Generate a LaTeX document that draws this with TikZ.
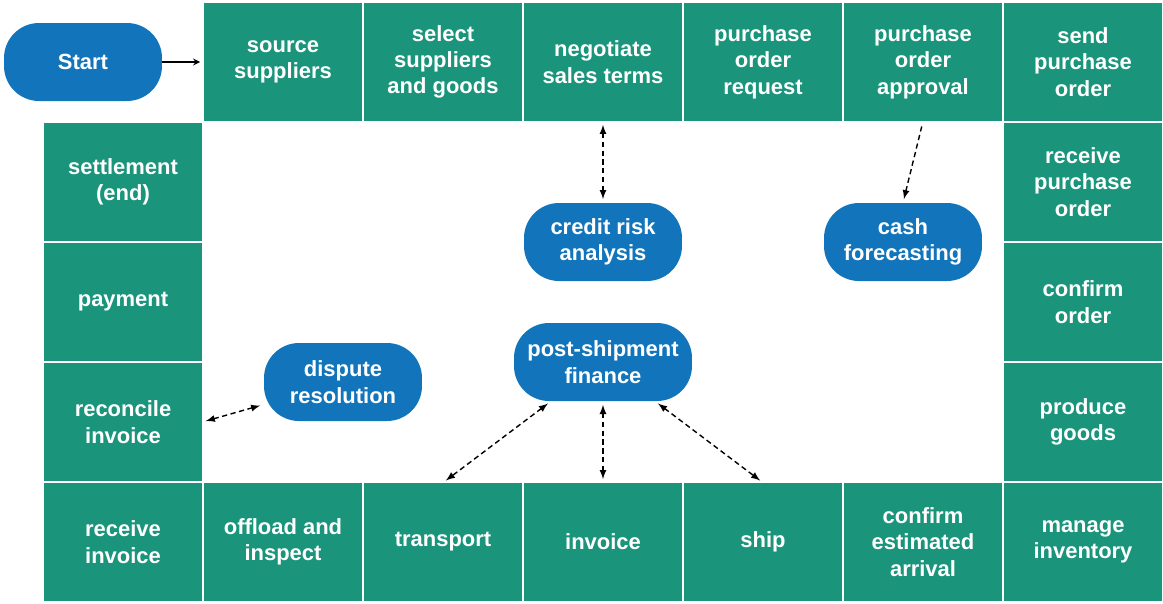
\documentclass[tikz,border=0pt]{standalone}
\usepackage{fontspec}
\setmainfont{Liberation Sans}
\usetikzlibrary{arrows}
\definecolor{boxgreen}{HTML}{1A957C}
\definecolor{pillblue}{HTML}{1275BB}

\begin{document}
\begin{tikzpicture}[x=0.02cm,y=-0.02cm,>=stealth,
  stage/.style={fill=boxgreen,text=white,font=\bfseries\fontsize{12.5}{15}\selectfont,
    minimum width=3.16cm,minimum height=2.36cm,align=center,inner sep=1pt},
  pill/.style={fill=pillblue,text=white,font=\bfseries\fontsize{12.5}{15}\selectfont,
    rounded corners=0.7cm,minimum width=3.16cm,minimum height=1.56cm,align=center,inner sep=1pt},
  link/.style={<->,densely dashed,thick,>=latex,shorten >=2pt,shorten <=2pt}]

\useasboundingbox (0,0) rectangle (1163,603);

\node[pill] (start) at (83,62) {Start};

% top row
\node[stage] (src) at (283,62) {source\\suppliers};
\node[stage] (sel) at (443,62) {select\\suppliers\\and goods};
\node[stage] (neg) at (603,62) {negotiate\\sales terms};
\node[stage] (por) at (763,62) {purchase\\order\\request};
\node[stage] (poa) at (923,62) {purchase\\order\\approval};
\node[stage] (spo) at (1083,62) {send\\purchase\\order};
% right column
\node[stage] (rpo) at (1083,182) {receive\\purchase\\order};
\node[stage] (cfo) at (1083,302) {confirm\\order};
\node[stage] (prg) at (1083,422) {produce\\goods};
\node[stage] (inv) at (1083,542) {manage\\inventory};
% bottom row
\node[stage] (cea) at (923,542) {confirm\\estimated\\arrival};
\node[stage] (shp) at (763,542) {ship};
\node[stage] (ivc) at (603,542) {invoice};
\node[stage] (trn) at (443,542) {transport};
\node[stage] (off) at (283,542) {offload and\\inspect};
\node[stage] (rci) at (123,542) {receive\\invoice};
% left column
\node[stage] (rec) at (123,422) {reconcile\\invoice};
\node[stage] (pay) at (123,302) {payment};
\node[stage] (set) at (123,182) {settlement\\(end)};

% finance services
\node[pill] (crd) at (603,242) {credit risk\\analysis};
\node[pill] (csh) at (903,242) {cash\\forecasting};
\node[pill] (dsp) at (343,382) {dispute\\resolution};
\node[pill,minimum width=3.56cm] (psf) at (603,362) {post-shipment\\finance};

\draw[->,thick,shorten >=2pt] (start) -- (src);
\draw[link] (neg) -- (crd);
\draw[link,<-] (csh.north) -- (poa.south);
\draw[link] (rec.east) -- (dsp);
\draw[link] (psf) -- (trn.north);
\draw[link] (psf) -- (ivc);
\draw[link] (psf) -- (shp.north);
\end{tikzpicture}
\end{document}
